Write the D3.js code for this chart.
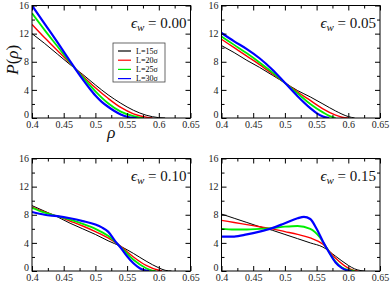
<!DOCTYPE html>
<html><head><meta charset="utf-8">
<script src="https://cdn.jsdelivr.net/npm/d3@7"></script>
<style>body{margin:0;background:#fff}svg{display:block}</style>
</head><body>
<svg id="c" width="391" height="288"></svg>
<script>
const xTicks = [0.4, 0.45, 0.5, 0.55, 0.6, 0.65];
const yTicks = [0, 4, 8, 12, 16];
const seriesNames = ["L=15σ", "L=20σ", "L=25σ", "L=30σ"];
const seriesColors = ["#000000", "#ff0000", "#00ee00", "#0000ff"];
const panelLabels = ["0.00", "0.05", "0.10", "0.15"];

// eps_w = 0.00
const p00_L15 = [[0.4,12.0],[0.42,10.6],[0.44,9.1],[0.46,7.6],[0.48,6.2],[0.5,4.7],[0.52,3.3],[0.54,2.1],[0.56,1.1],[0.58,0.4],[0.6,0.05],[0.61,0]];
const p00_L20 = [[0.4,13.3],[0.42,11.4],[0.44,9.6],[0.46,7.8],[0.48,6.0],[0.5,4.3],[0.52,2.8],[0.54,1.5],[0.56,0.6],[0.58,0.12],[0.59,0]];
const p00_L25 = [[0.4,14.9],[0.42,12.5],[0.44,10.2],[0.46,7.9],[0.48,5.8],[0.5,3.8],[0.52,2.1],[0.54,0.9],[0.56,0.25],[0.57,0.05],[0.575,0]];
const p00_L30 = [[0.4,16.0],[0.42,13.4],[0.44,10.8],[0.46,8.1],[0.48,5.5],[0.49,4.3],[0.5,3.2],[0.51,2.3],[0.52,1.6],[0.53,1.0],[0.54,0.5],[0.55,0.18],[0.56,0.02],[0.565,0]];
// eps_w = 0.05
const p05_L15 = [[0.4,10.3],[0.42,9.3],[0.44,8.2],[0.46,7.2],[0.48,6.1],[0.5,5.0],[0.52,3.9],[0.54,3.0],[0.56,2.0],[0.58,1.0],[0.6,0.2],[0.61,0]];
const p05_L20 = [[0.4,11.2],[0.42,10.0],[0.44,8.8],[0.46,7.6],[0.48,6.3],[0.5,5.0],[0.52,3.7],[0.54,2.5],[0.56,1.3],[0.58,0.4],[0.59,0.1],[0.6,0]];
const p05_L25 = [[0.4,11.6],[0.42,10.4],[0.44,9.2],[0.46,7.9],[0.48,6.5],[0.5,5.0],[0.52,3.5],[0.54,2.0],[0.56,0.8],[0.57,0.3],[0.58,0]];
const p05_L30 = [[0.4,12.1],[0.42,10.9],[0.44,9.8],[0.46,8.5],[0.48,6.9],[0.5,5.0],[0.52,3.1],[0.54,1.4],[0.55,0.7],[0.56,0.2],[0.57,0]];
// eps_w = 0.10
const p10_L15 = [[0.4,9.3],[0.42,8.5],[0.44,7.7],[0.46,6.8],[0.48,6.0],[0.5,5.2],[0.52,4.3],[0.54,3.5],[0.56,2.5],[0.58,1.4],[0.6,0.45],[0.61,0.1],[0.62,0]];
const p10_L20 = [[0.4,9.1],[0.42,8.4],[0.44,7.8],[0.46,7.1],[0.48,6.4],[0.5,5.6],[0.52,4.7],[0.54,3.5],[0.56,2.0],[0.58,0.8],[0.6,0.1],[0.605,0]];
const p10_L25 = [[0.4,9.0],[0.42,8.3],[0.44,7.8],[0.46,7.3],[0.48,6.7],[0.5,6.0],[0.52,5.0],[0.54,3.4],[0.56,1.6],[0.58,0.4],[0.59,0.05],[0.595,0]];
const p10_L30 = [[0.4,8.4],[0.42,8.0],[0.44,7.8],[0.46,7.5],[0.48,7.1],[0.5,6.6],[0.51,6.2],[0.52,5.6],[0.53,4.4],[0.54,3.3],[0.55,2.1],[0.56,1.1],[0.57,0.4],[0.58,0.05],[0.585,0]];
// eps_w = 0.15
const p15_L15 = [[0.4,8.1],[0.42,7.5],[0.44,6.9],[0.46,6.3],[0.48,5.8],[0.5,5.2],[0.52,4.6],[0.54,4.0],[0.56,3.4],[0.58,2.1],[0.6,0.8],[0.61,0.3],[0.62,0.05],[0.625,0]];
const p15_L20 = [[0.4,7.2],[0.42,6.9],[0.44,6.6],[0.46,6.3],[0.48,6.0],[0.5,5.6],[0.52,5.2],[0.54,4.7],[0.56,3.8],[0.58,1.8],[0.6,0.4],[0.61,0.05],[0.615,0]];
const p15_L25 = [[0.4,6.0],[0.42,5.9],[0.44,5.9],[0.46,6.0],[0.48,6.1],[0.5,6.3],[0.52,6.4],[0.54,6.0],[0.555,4.8],[0.565,3.4],[0.58,1.3],[0.59,0.5],[0.6,0.15],[0.61,0]];
const p15_L30 = [[0.4,4.9],[0.42,4.9],[0.44,5.2],[0.46,5.6],[0.48,6.1],[0.5,6.8],[0.52,7.5],[0.53,7.7],[0.54,7.4],[0.55,6.0],[0.56,4.2],[0.57,2.6],[0.58,1.2],[0.59,0.4],[0.6,0.05],[0.605,0]];

const panelData = [
  [p00_L15, p00_L20, p00_L25, p00_L30],
  [p05_L15, p05_L20, p05_L25, p05_L30],
  [p10_L15, p10_L20, p10_L25, p10_L30],
  [p15_L15, p15_L20, p15_L25, p15_L30]
];

const svg = d3.select("#c");
const W = 158.5, H = 112.5;
const colX = [32, 221.5], rowY = [5.5, 158.5];
const strokeW = [1.0, 1.4, 1.8, 2.2];
const FONT = "'Liberation Serif','Times New Roman',serif";

panelData.forEach((series, i) => {
  const ox = colX[i % 2], oy = rowY[Math.floor(i / 2)];
  const g = svg.append("g").attr("transform", `translate(${ox},${oy})`);
  const x = d3.scaleLinear().domain([0.4, 0.65]).range([0, W]);
  const y = d3.scaleLinear().domain([0, 16]).range([H, 0]);

  g.append("clipPath").attr("id", "clip" + i).append("rect").attr("width", W).attr("height", H);

  const line = d3.line().x(d => x(d[0])).y(d => y(d[1])).curve(d3.curveMonotoneX);
  const cg = g.append("g").attr("clip-path", `url(#clip${i})`);
  series.forEach((s, k) => {
    cg.append("path").attr("d", line(s)).attr("fill", "none")
      .attr("stroke", seriesColors[k]).attr("stroke-width", strokeW[k]).attr("stroke-linejoin", "round");
  });

  const minorX = d3.range(0.425, 0.65, 0.05);
  const minorY = d3.range(2, 16, 4);
  const mk = (axisFn, scale, vals, len, labels) => {
    const a = axisFn(scale).tickValues(vals).tickSizeInner(-len).tickSizeOuter(0).tickPadding(3);
    if (!labels) a.tickFormat("");
    else a.tickFormat(d => String(d));
    return a;
  };
  const styleAxis = sel => {
    sel.select(".domain").remove();
    sel.selectAll("line").attr("stroke", "#000").attr("stroke-width", 1);
    sel.selectAll("text").attr("font-family", FONT).attr("font-size", 10).attr("fill", "#222");
  };
  g.append("g").attr("transform", `translate(0,${H})`).call(mk(d3.axisBottom, x, xTicks, 5, true)).call(styleAxis)
    .selectAll("text").attr("dy", "0.68em");
  g.append("g").attr("transform", `translate(0,${H})`).call(mk(d3.axisBottom, x, minorX, 3, false)).call(styleAxis);
  g.append("g").call(mk(d3.axisTop, x, xTicks, 5, false)).call(styleAxis);
  g.append("g").call(mk(d3.axisTop, x, minorX, 3, false)).call(styleAxis);
  g.append("g").call(mk(d3.axisLeft, y, yTicks, 5, true)).call(styleAxis)
    .selectAll("text").attr("dy", d => d === 0 ? "-0.05em" : "0.32em");
  g.append("g").call(mk(d3.axisLeft, y, minorY, 3, false)).call(styleAxis);
  g.append("g").attr("transform", `translate(${W},0)`).call(mk(d3.axisRight, y, yTicks, 5, false)).call(styleAxis);
  g.append("g").attr("transform", `translate(${W},0)`).call(mk(d3.axisRight, y, minorY, 3, false)).call(styleAxis);

  g.append("rect").attr("width", W).attr("height", H).attr("fill", "none").attr("stroke", "#000").attr("stroke-width", 1);

  const t = g.append("text").attr("x", W - 4).attr("y", 22).attr("text-anchor", "end")
    .attr("font-family", FONT).attr("font-size", 15).attr("fill", "#111");
  t.append("tspan").attr("font-style", "italic").text("ϵ");
  t.append("tspan").attr("font-style", "italic").attr("font-size", 11).attr("dy", 3).text("w");
  t.append("tspan").attr("dy", -3).text(" = " + panelLabels[i]);

  if (i === 0) {
    const lg = g.append("g").attr("transform", `translate(${113 - ox},${43 - oy})`);
    lg.append("rect").attr("width", 52).attr("height", 39).attr("fill", "#fff").attr("stroke", "#444").attr("stroke-width", 0.8);
    seriesNames.forEach((n, k) => {
      const yy = 8 + k * 9.2;
      lg.append("line").attr("x1", 5).attr("x2", 18).attr("y1", yy).attr("y2", yy)
        .attr("stroke", seriesColors[k]).attr("stroke-width", 1.2);
      lg.append("text").attr("x", 23).attr("y", yy + 2.8).attr("font-family", FONT)
        .attr("font-size", 8).attr("fill", "#000").text(n);
    });
    const yl = svg.append("text").attr("transform", `translate(18,${oy + H / 2 - 2}) rotate(-90)`)
      .attr("text-anchor", "middle").attr("font-family", FONT).attr("font-size", 17).attr("fill", "#111");
    yl.append("tspan").attr("font-style", "italic").text("P");
    yl.append("tspan").text("(");
    yl.append("tspan").attr("font-style", "italic").text("ρ");
    yl.append("tspan").text(")");
    svg.append("text").attr("x", ox + W / 2).attr("y", 138).attr("text-anchor", "middle")
      .attr("font-family", FONT).attr("font-size", 17).attr("font-style", "italic").attr("fill", "#111").text("ρ");
  }
});
</script>
</body></html>
